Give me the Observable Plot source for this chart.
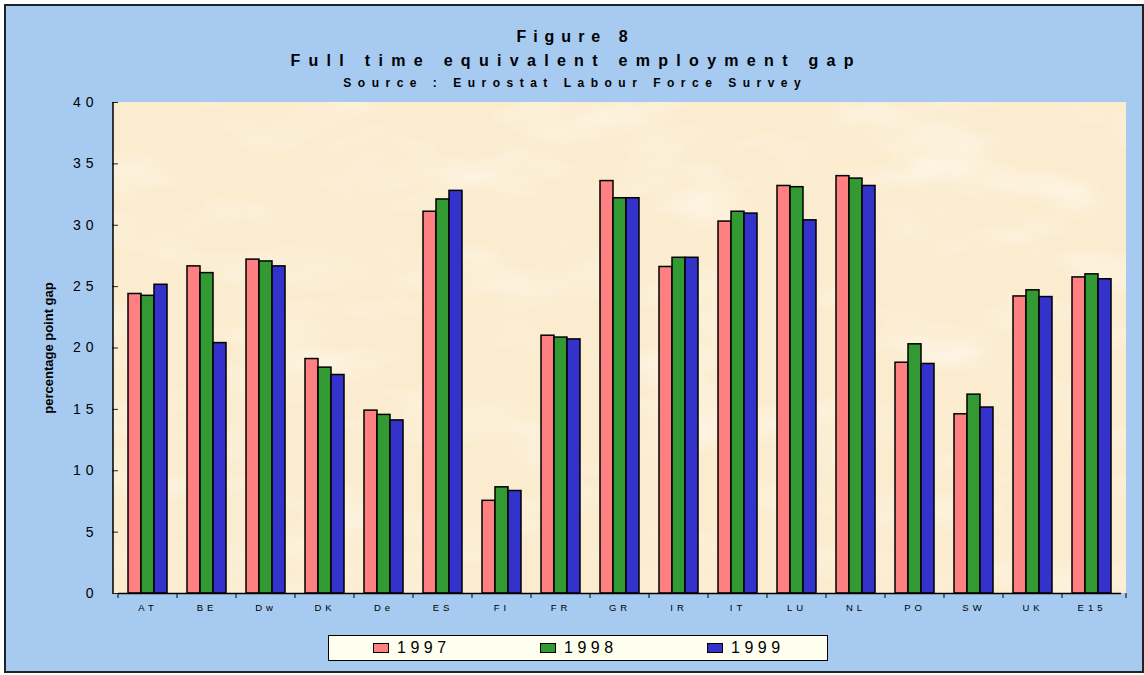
<!DOCTYPE html>
<html>
<head>
<meta charset="utf-8">
<script src="https://cdn.jsdelivr.net/npm/d3@7"></script>
<script src="https://cdn.jsdelivr.net/npm/@observablehq/plot@0.6"></script>
<style>
  body { margin: 0; background: #fff; }
  #page { position: relative; width: 1144px; height: 675px; overflow: hidden; font-family: "Liberation Sans", Arial, sans-serif; }
  #frame { position: absolute; left: 4px; top: 4px; width: 1140px; height: 669px; box-sizing: border-box; border: 2px solid #222; background: #A6CAF0; }
  .t { position: absolute; left: 0; width: 1144px; box-sizing: border-box; text-align: center; font-weight: bold; color: #000; white-space: pre; }
  #t1 { top: 29px; font-size: 16px; line-height: 16px; letter-spacing: 7px; padding-left: 7px; }
  #t2 { top: 53px; font-size: 16px; line-height: 16px; letter-spacing: 8.3px; padding-left: 8.3px; }
  #t3 { top: 77px; font-size: 12px; line-height: 12px; letter-spacing: 6.5px; padding-left: 6.5px; }
  #chart { position: absolute; left: 0; top: 0; }
  #chart svg [aria-label="fx-axis tick label"] text { letter-spacing: 4px; }
  #chart svg [aria-label="y-axis tick label"] text { letter-spacing: 5px; }
  #chart svg [aria-label="y-axis label"] text { font-weight: bold; font-size: 13px; }
  #legend { position: absolute; left: 328px; top: 635px; width: 500px; height: 26px; box-sizing: border-box; border: 1px solid #000; background: #FFFFF0; }
  .item { position: absolute; top: 0; height: 24px; display: flex; align-items: center; }
  .sw { width: 16px; height: 10px; box-sizing: border-box; border: 1px solid #000; margin-right: 8px; }
  .lab { font-size: 16px; letter-spacing: 4.5px; color: #000; line-height: 16px; }
</style>
</head>
<body>
<div id="page">
  <div id="frame"></div>
  <div class="t" id="t1"></div>
  <div class="t" id="t2"></div>
  <div class="t" id="t3"></div>
  <div id="chart"></div>
  <div id="legend"></div>
</div>
<script>
// ---- data ----
const titleLine1 = "Figure 8";
const titleLine2 = "Full time equivalent employment gap";
const titleLine3 = "Source : Eurostat Labour Force Survey";
const yLabel = "percentage point gap";

const countries = ["AT","BE","Dw","DK","De","ES","FI","FR","GR","IR","IT","LU","NL","PO","SW","UK","E15"];
const years = ["1997","1998","1999"];
const colors = ["#FF8080","#339933","#3333CC"];
const yTicks = [0,5,10,15,20,25,30,35,40];

const v1997 = [24.4, 26.65, 27.2, 19.1, 14.9, 31.1, 7.55, 21.0, 33.6, 26.6, 30.3, 33.2, 34.0, 18.8, 14.6, 24.2, 25.75];
const v1998 = [24.25, 26.1, 27.05, 18.4, 14.55, 32.1, 8.65, 20.85, 32.2, 27.35, 31.1, 33.1, 33.8, 20.3, 16.2, 24.7, 26.0];
const v1999 = [25.15, 20.4, 26.65, 17.8, 14.1, 32.8, 8.35, 20.7, 32.2, 27.35, 30.95, 30.4, 33.2, 18.7, 15.15, 24.15, 25.6];
const series = [v1997, v1998, v1999];

// ---- titles ----
document.getElementById("t1").textContent = titleLine1;
document.getElementById("t2").textContent = titleLine2;
document.getElementById("t3").textContent = titleLine3;

// ---- table ----
const data = countries.flatMap((c, i) => years.map((yr, j) => ({country: c, year: yr, value: series[j][i]})));

const plot = Plot.plot({
  width: 1144,
  height: 640,
  marginTop: 102,
  marginLeft: 113,
  marginRight: 18,
  marginBottom: 47,
  style: {background: "transparent", fontFamily: "'Liberation Sans', Arial, sans-serif", color: "#000", overflow: "visible"},
  fx: {domain: countries, padding: 0, label: null},
  x: {domain: years, paddingInner: 0, paddingOuter: 0.74, axis: null},
  y: {domain: [0, 40]},
  color: {domain: years, range: colors},
  marks: [
    Plot.barY(data, {fx: "country", x: "year", y: "value", fill: "year", stroke: "#000", strokeWidth: 1.5}),
    Plot.ruleY([0], {stroke: "#000", strokeWidth: 1.5}),
    Plot.axisY({ticks: yTicks, tickSize: 6, tickPadding: 14, fontSize: 14, stroke: "#222", label: yLabel, labelAnchor: "center", labelArrow: "none", labelOffset: 75}),
    Plot.axisFx({anchor: "bottom", tickSize: 0, tickPadding: 11, fontSize: 9.5, label: null})
  ]
});
document.getElementById("chart").appendChild(plot);

// ---- plot-area background, y-axis line, category boundary ticks (from the plot's scales) ----
const fx = plot.scale("fx"), ys = plot.scale("y");
const x0 = fx.range[0], x1 = fx.range[1];
const yTop = ys.apply(40), yBot = ys.apply(0);
const svg = d3.select(plot);
const defs = svg.insert("defs", ":first-child");
const f = defs.append("filter").attr("id", "parch").attr("x", 0).attr("y", 0).attr("width", "100%").attr("height", "100%");
f.append("feTurbulence").attr("type", "fractalNoise").attr("baseFrequency", "0.008 0.02").attr("numOctaves", 3).attr("seed", 7);
f.append("feColorMatrix").attr("type", "matrix").attr("values", "0 0 0 0 1  0 0 0 0 0.98  0 0 0 0 0.93  1.6 0 0 0 -0.75");
const bg = svg.insert("g", "defs + *");
bg.append("rect").attr("x", x0).attr("y", yTop).attr("width", x1 - x0).attr("height", yBot - yTop).attr("fill", "#FBECCF");
bg.append("rect").attr("x", x0).attr("y", yTop).attr("width", x1 - x0).attr("height", yBot - yTop).attr("filter", "url(#parch)").attr("opacity", 0.8);

svg.append("line").attr("x1", x0).attr("x2", x0).attr("y1", yBot).attr("y2", yTop).attr("stroke", "#000").attr("stroke-width", 1.5);
const bounds = countries.map(c => fx.apply(c)).concat([x1]);
svg.append("g").selectAll("line").data(bounds).join("line")
  .attr("x1", d => d).attr("x2", d => d).attr("y1", yBot).attr("y2", yBot + 5)
  .attr("stroke", "#000").attr("stroke-width", 1);

// ---- legend ----
const legend = d3.select("#legend");
years.forEach((yr, i) => {
  const it = legend.append("div").attr("class", "item").style("left", (44 + i * 167) + "px");
  it.append("div").attr("class", "sw").style("background", colors[i]);
  it.append("div").attr("class", "lab").text(yr);
});
</script>
</body>
</html>
